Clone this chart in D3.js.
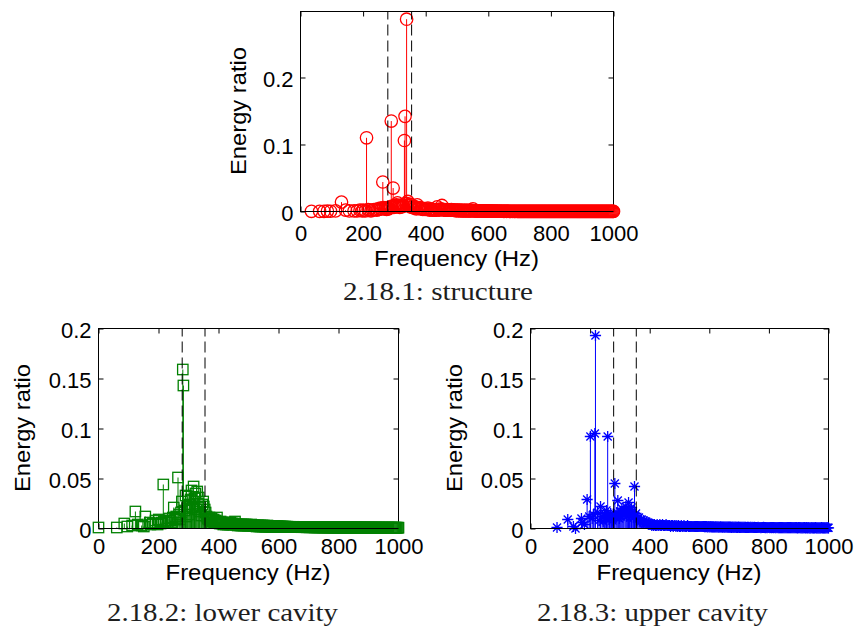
<!DOCTYPE html>
<html><head><meta charset="utf-8">
<script src="https://cdn.jsdelivr.net/npm/d3@7"></script>
<style>body{margin:0;background:#fff}svg{display:block}</style>
</head><body>
<svg id="chart" width="857" height="628"></svg>
<script>
// Modal frequencies (Hz), shared by the three subsystems
const freqHz = [
  0, 35, 61, 75, 86, 89, 96, 112, 123, 125,
  131, 144, 151, 156, 171, 173, 181, 190, 197, 201,
  207, 211, 216, 218, 225, 230, 235, 240, 244, 248,
  251, 255, 259, 263, 265, 269, 272, 275, 278, 281,
  283, 287, 290, 293, 296, 298, 301, 304, 307, 310,
  313, 317, 320, 323, 326, 329, 332, 334, 337, 339,
  343, 346, 349, 351, 354, 357, 360, 364, 367, 370,
  373, 377, 380, 384, 388, 391, 395, 398,
  401, 404, 407, 410, 413, 416, 419, 422, 425, 428,
  431, 434, 437, 440, 443, 446, 449, 452, 455, 458,
  461, 464, 467, 470, 473, 476, 479, 482, 485, 488,
  491, 494, 497, 500, 503, 506, 509, 512, 515, 518,
  521, 524, 527, 530, 533, 536, 539, 542, 545, 548,
  551, 554, 557, 560, 563, 566, 569, 572, 575, 578,
  581, 584, 587, 590, 593, 596, 599, 602, 605, 608,
  611, 614, 617, 620, 623, 626, 629, 632, 635, 638,
  641, 644, 647, 650, 653, 656, 659, 662, 665, 668,
  671, 674, 677, 680, 683, 686, 689, 692, 695, 698,
  701, 704, 707, 710, 713, 716, 719, 722, 725, 728,
  731, 734, 737, 740, 743, 746, 749, 752, 755, 758,
  761, 764, 767, 770, 773, 776, 779, 782, 785, 788,
  791, 794, 797, 800, 803, 806, 809, 812, 815, 818,
  821, 824, 827, 830, 833, 836, 839, 842, 845, 848,
  851, 854, 857, 860, 863, 866, 869, 872, 875, 878,
  881, 884, 887, 890, 893, 896, 899, 902, 905, 908,
  911, 914, 917, 920, 923, 926, 929, 932, 935, 938,
  941, 944, 947, 950, 953, 956, 959, 962, 965, 968,
  971, 974, 977, 980, 983, 986, 989, 992, 995, 998,
  1000
];
// Energy ratio of the structure (red circles)
const structureRatio = [
  null, .0003, .0002, .0003, .0005, null, .0004, .001, null, null,
  .014, .002, null, .001, .001, null, .001, .002, .001, .002,
  .001, .110, .003, .002, .001, .002, .003, .003, .002, .004,
  .003, .005, .004, .044, .006, .004, .005, .003, .006, .004,
  .005, .007, .135, .008, .035, .006, .009, .007, .010, .013,
  .008, .006, .009, .007, .010, .008, .106, .142, .012, .287,
  .015, .009, .011, .007, .010, .006, .008, .005, .007, .004,
  .010, .005, .006, .004, .005, .003, .004, .003,
  .004, .003, .005, .003, .002, .004, .003, .002, .003, .002,
  .003, .002, .007, .003, .002, .003, .004, .009, .003, .002,
  .003, .002, .002, .003, .002, .002, .002, .003, .002, .002,
  .002, .002, .001, .002, .002, .001, .002, .001, .002, .001,
  .001, .002, .001, .001, .002, .001, .001, .001, .002, .001,
  .004, .001, .001, .001, .001, .001, .001, .001, .001, .001,
  .001, .0008, .001, .0006, .0008, .0005, .0007, .0006, .0005, .0006,
  .0005, .0006, .0004, .0005, .0006, .0004, .0005, .0004, .0005, .0004,
  .0004, .0005, .0004, .0003, .0004, .0005, .0003, .0004, .0004, .0003,
  .0003, .0004, .0003, .0004, .0003, .0003, .0004, .0003, .0003, .0003,
  .0003, .0003, .0002, .0003, .0003, .0002, .0003, .0003, .0002, .0003,
  .0003, .0002, .0003, .0002, .0003, .0002, .0002, .0003, .0002, .0002,
  .0002, .0003, .0002, .0002, .0002, .0003, .0002, .0002, .0002, .0002,
  .0002, .0002, .0002, .0003, .0002, .0002, .0002, .0002, .0002, .0002,
  .0002, .0002, .0001, .0002, .0002, .0002, .0002, .0001, .0002, .0002,
  .0002, .0001, .0002, .0002, .0001, .0002, .0002, .0001, .0002, .0001,
  .0001, .0002, .0001, .0002, .0001, .0001, .0002, .0001, .0001, .0002,
  .0001, .0001, .0002, .0001, .0001, .0001, .0002, .0001, .0001, .0001,
  .0001, .0001, .0001, .0002, .0001, .0001, .0001, .0001, .0001, .0001,
  .0001, .0001, .0001, .0001, .0001, .0001, .0001, .0001, .0001, .0001,
  .0001
];
// Energy ratio of the lower cavity (green squares)
const lowerCavityRatio = [
  .001, null, .001, null, .005, null, .002, .003, .017, null,
  .004, .003, .002, .012, .006, .004, .005, .008, .004, .009,
  .005, .006, .044, .007, .008, .006, .010, .008, .006, .011,
  .021, .009, .012, .010, .051, .014, .009, .016, .027, .159,
  .143, .018, .033, .012, .020, .032, .014, .024, .029, .038,
  .021, .042, .030, .035, .019, .037, .025, .031, .017, .022,
  .013, .024, .027, .022, .019, .016, .012, .010, .009, .011,
  .008, .010, .007, .009, .006, .008, .011, .006,
  .006, .005, .007, .005, .006, .004, .005, .006, .004, .005,
  .004, .005, .004, .006, .004, .005, .004, .005, .007, .004,
  .004, .003, .004, .004, .003, .004, .003, .004, .003, .004,
  .003, .004, .003, .003, .003, .003, .004, .003, .003, .003,
  .003, .003, .002, .003, .003, .002, .003, .002, .003, .002,
  .003, .002, .002, .002, .003, .002, .002, .002, .002, .002,
  .002, .0022, .002, .0019, .002, .0021, .002, .0018, .002, .0019,
  .0018, .002, .0017, .0018, .0019, .0016, .0018, .0017, .0016, .0017,
  .0016, .0015, .0016, .0017, .0015, .0014, .0016, .0015, .0014, .0015,
  .0014, .0015, .0013, .0014, .0015, .0013, .0014, .0013, .0012, .0014,
  .0013, .0012, .0013, .0014, .0012, .0013, .0012, .0011, .0013, .0012,
  .0012, .0011, .0012, .0013, .0011, .0012, .0011, .0012, .0011, .0012,
  .0011, .0012, .0011, .001, .0011, .0012, .0011, .001, .0011, .0011,
  .001, .0011, .001, .0011, .001, .001, .0011, .001, .001, .0011,
  .001, .001, .0009, .001, .001, .0009, .001, .001, .0009, .001,
  .0009, .001, .0009, .0009, .001, .0009, .0009, .001, .0009, .0009,
  .0009, .0009, .001, .0009, .0009, .0008, .0009, .0009, .0008, .0009,
  .0009, .0008, .0009, .0009, .0008, .0009, .0008, .0008, .0009, .0008,
  .0008, .0009, .0008, .0008, .0008, .0009, .0008, .0008, .0008, .0008,
  .0008, .0008, .0008, .0009, .0008, .0008, .0008, .0008, .0008, .0008,
  .0008
];
// Energy ratio of the upper cavity (blue stars)
const upperCavityRatio = [
  null, null, null, null, null, .001, null, null, null, .009,
  null, .002, .000, null, .010, .006, .004, .029, .012, .092,
  .010, .014, .095, .193, .016, .008, .022, .012, .007, .015,
  .010, .018, .092, .013, .009, .015, .011, .008, .014, .012,
  .045, .011, .016, .028, .013, .010, .017, .012, .020, .014,
  .018, .015, .022, .012, .017, .026, .014, .019, .012, .021,
  .016, .011, .042, .013, .015, .010, .009, .011, .008, .007,
  .009, .006, .008, .005, .007, .005, .006, .004,
  .005, .004, .003, .004, .003, .004, .003, .003, .004, .003,
  .003, .004, .003, .003, .004, .003, .003, .003, .004, .003,
  .003, .003, .003, .002, .003, .003, .002, .003, .003, .002,
  .003, .002, .003, .002, .002, .003, .002, .002, .003, .002,
  .002, .002, .003, .002, .002, .002, .002, .002, .002, .002,
  .002, .002, .002, .002, .002, .002, .002, .002, .002, .002,
  .002, .0018, .0019, .002, .0017, .0018, .0019, .0017, .0018, .0016,
  .0017, .0016, .0015, .0016, .0017, .0015, .0016, .0014, .0015, .0016,
  .0015, .0014, .0015, .0013, .0014, .0015, .0013, .0014, .0013, .0014,
  .0013, .0012, .0014, .0012, .0013, .0012, .0013, .0011, .0012, .0013,
  .0012, .0011, .0012, .0011, .0012, .0011, .0012, .0011, .001, .0011,
  .0011, .001, .0011, .0011, .001, .0011, .001, .0011, .001, .001,
  .001, .0011, .001, .001, .0009, .001, .001, .0011, .001, .0009,
  .001, .0009, .001, .001, .0009, .001, .0009, .001, .0009, .001,
  .0009, .0009, .001, .0009, .0008, .0009, .0009, .0008, .0009, .0009,
  .0008, .0009, .0009, .0008, .0009, .0008, .0008, .0009, .0008, .0008,
  .0008, .0008, .0009, .0008, .0008, .0007, .0008, .0008, .0008, .0007,
  .0008, .0007, .0008, .0008, .0007, .0008, .0007, .0008, .0007, .0007,
  .0007, .0008, .0007, .0007, .0007, .0008, .0007, .0007, .0007, .0007,
  .0007, .0007, .0008, .0007, .0007, .0007, .0007, .0007, .0008, .0007,
  .0007
];
// Frequency band limits shown as dashed lines (Hz)
const bandLimitsHz = [279, 355];
const xTickValues = [0, 200, 400, 600, 800, 1000];
const yTicksStructure = [0, 0.1, 0.2];
const yTicksCavity = [0, 0.05, 0.1, 0.15, 0.2];
const xLabel = "Frequency (Hz)";
const yLabel = "Energy ratio";
const captions = ["2.18.1: structure", "2.18.2: lower cavity", "2.18.3: upper cavity"];

const svg = d3.select("#chart");
const SANS = "'Liberation Sans', Arial, Helvetica, sans-serif";
const SERIF = "'Liberation Serif', 'Times New Roman', Times, serif";

const panels = [
  { vals: structureRatio, color: "#ff0000", marker: "circle", yMax: 0.2985, yTicks: yTicksStructure,
    left: 300, right: 613, top: 11, bottom: 211, xPad: 14, xLabY: 54.7, yLabX: 246,
    caption: captions[0], capX: 438, capY: 300, capLen: 190 },
  { vals: lowerCavityRatio, color: "#008000", marker: "square", yMax: 0.2, yTicks: yTicksCavity,
    left: 98, right: 398, top: 328, bottom: 528, xPad: 10, xLabY: 52, yLabX: 29.5,
    caption: captions[1], capX: 222.5, capY: 621, capLen: 231 },
  { vals: upperCavityRatio, color: "#0000ff", marker: "star", yMax: 0.2, yTicks: yTicksCavity,
    left: 530, right: 828, top: 328, bottom: 528, xPad: 10, xLabY: 52, yLabX: 461.5,
    caption: captions[2], capX: 652.5, capY: 621, capLen: 231 }
];

function starPath(s) {
  const d = s * 0.72;
  return `M${-s},0H${s}M0,${-s}V${s}M${-d},${-d}L${d},${d}M${-d},${d}L${d},${-d}`;
}
const fmt = v => String(+v.toFixed(3));

panels.forEach(p => {
  const g = svg.append("g");
  const x = d3.scaleLinear().domain([0, 1000]).range([p.left + 0.5, p.right + 0.5]);
  const y = d3.scaleLinear().domain([0, p.yMax]).range([p.bottom + 0.5, p.top + 0.5]);

  g.append("rect").attr("x", p.left + 0.5).attr("y", p.top + 0.5)
    .attr("width", p.right - p.left).attr("height", p.bottom - p.top)
    .attr("fill", "none").attr("stroke", "#000").attr("stroke-width", 1);

  const styleAxis = sel => {
    sel.attr("font-family", null).attr("font-size", null);
    sel.select(".domain").remove();
    sel.selectAll(".tick line").attr("stroke", "#000").attr("stroke-width", 1);
    sel.selectAll("text").style("font-family", SANS).style("font-size", "22px").attr("fill", "#000");
  };
  g.append("g").attr("transform", `translate(0,${p.bottom + 0.5})`)
    .call(d3.axisBottom(x).tickValues(xTickValues).tickSize(-5).tickPadding(p.xPad).tickFormat(d3.format("d")))
    .call(styleAxis);
  g.append("g").attr("transform", `translate(0,${p.top + 0.5})`)
    .call(d3.axisTop(x).tickValues(xTickValues).tickSize(-5).tickFormat(""))
    .call(styleAxis);
  g.append("g").attr("transform", `translate(${p.left + 0.5},0)`)
    .call(d3.axisLeft(y).tickValues(p.yTicks).tickSize(-5).tickPadding(7).tickFormat(fmt))
    .call(styleAxis)
    .call(s => s.selectAll("text").attr("dy", "0.4em"));
  g.append("g").attr("transform", `translate(${p.right + 0.5},0)`)
    .call(d3.axisRight(y).tickValues(p.yTicks).tickSize(-5).tickFormat(""))
    .call(styleAxis);

  const data = freqHz.map((f, i) => ({ f, v: p.vals[i] })).filter(d => d.v !== null && d.v !== undefined);

  g.append("g").selectAll("line").data(data).join("line")
    .attr("x1", d => x(d.f)).attr("x2", d => x(d.f))
    .attr("y1", y(0)).attr("y2", d => y(d.v))
    .attr("stroke", p.color).attr("stroke-width", 1);

  const mg = g.append("g").attr("fill", "none").attr("stroke", p.color).attr("stroke-width", 1.3);
  if (p.marker === "circle") {
    mg.selectAll("circle").data(data).join("circle")
      .attr("cx", d => x(d.f)).attr("cy", d => y(d.v)).attr("r", 6.2);
  } else if (p.marker === "square") {
    mg.selectAll("rect").data(data).join("rect")
      .attr("x", d => x(d.f) - 5.2).attr("y", d => y(d.v) - 5.2)
      .attr("width", 10.4).attr("height", 10.4);
  } else {
    mg.selectAll("path").data(data).join("path")
      .attr("transform", d => `translate(${x(d.f)},${y(d.v)})`)
      .attr("d", starPath(5.6));
  }

  g.append("g").selectAll("line").data(bandLimitsHz).join("line")
    .attr("x1", d => x(d)).attr("x2", d => x(d))
    .attr("y1", y(0)).attr("y2", y(p.yMax))
    .attr("stroke", "#000").attr("stroke-width", 1).attr("stroke-dasharray", "11,5");

  g.append("line").attr("x1", x(0)).attr("x2", x(1000)).attr("y1", y(0)).attr("y2", y(0))
    .attr("stroke", "#000").attr("stroke-width", 1);

  g.append("text").attr("x", (p.left + p.right) / 2).attr("y", p.bottom + p.xLabY)
    .attr("text-anchor", "middle").style("font-family", SANS).style("font-size", "22px")
    .attr("textLength", 165).attr("lengthAdjust", "spacingAndGlyphs").text(xLabel);
  g.append("text").attr("transform", `translate(${p.yLabX},${(p.top + p.bottom) / 2}) rotate(-90)`)
    .attr("text-anchor", "middle").style("font-family", SANS).style("font-size", "22px")
    .attr("textLength", 128).attr("lengthAdjust", "spacingAndGlyphs").text(yLabel);

  g.append("text").attr("x", p.capX).attr("y", p.capY).attr("text-anchor", "middle")
    .style("font-family", SERIF).style("font-size", "26px").attr("fill", "#1e1e1e")
    .attr("textLength", p.capLen).attr("lengthAdjust", "spacingAndGlyphs").text(p.caption);
});
</script>
</body></html>
